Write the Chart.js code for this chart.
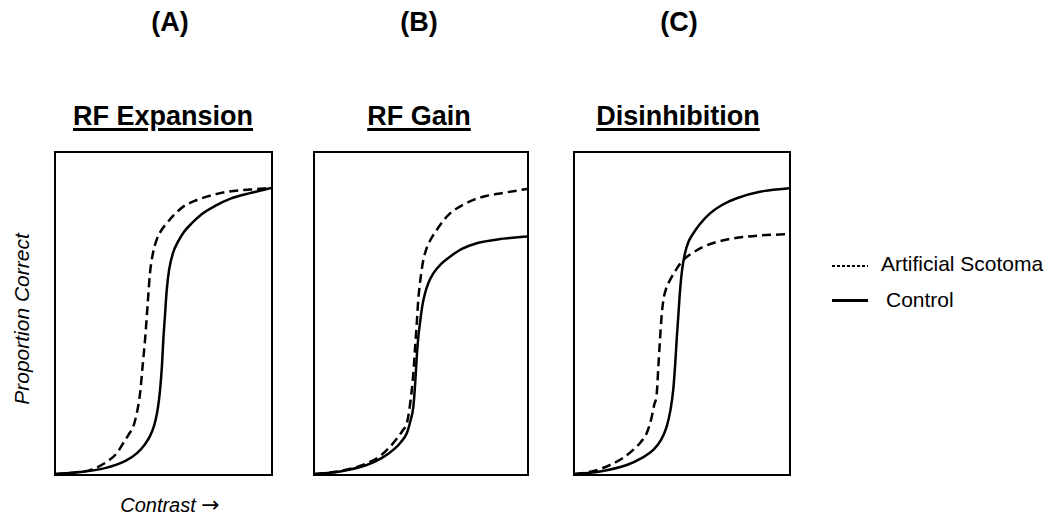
<!DOCTYPE html>
<html>
<head>
<meta charset="utf-8">
<script src="https://cdn.jsdelivr.net/npm/chart.js@4"></script>
<style>
  body { margin: 0; background: #fff; }
  #page { position: relative; width: 1050px; height: 514px; font-family: "Liberation Sans", Arial, sans-serif; color: #000; }
  .txt { position: absolute; white-space: nowrap; line-height: 1; }
  .letter { font-size: 27px; font-weight: bold; transform: translateX(-50%); top: 9px; }
  .title { font-size: 27px; font-weight: bold; transform: translateX(-50%); top: 103px;
           text-decoration: underline; text-decoration-thickness: 3px; text-underline-offset: 3px; }
  .box { position: absolute; top: 151px; height: 325px; border: 2px solid #000; box-sizing: border-box; }
  .box div { position: relative; width: 100%; height: 100%; }
  .key { font-size: 21px; }
  .swatch { position: absolute; left: 832px; width: 36px; }
  .arrow { font-family: "DejaVu Sans", sans-serif; font-style: normal; font-size: 22px; }
</style>
</head>
<body>
<div id="page">
  <div class="txt letter" style="left:170px">(A)</div>
  <div class="txt letter" style="left:419px">(B)</div>
  <div class="txt letter" style="left:679px">(C)</div>

  <div class="txt title" style="left:163px">RF Expansion</div>
  <div class="txt title" style="left:419px">RF Gain</div>
  <div class="txt title" style="left:678px">Disinhibition</div>

  <div class="box" style="left:54px;width:219px"><div><canvas id="chartA"></canvas></div></div>
  <div class="box" style="left:313px;width:216px"><div><canvas id="chartB"></canvas></div></div>
  <div class="box" style="left:573px;width:218px"><div><canvas id="chartC"></canvas></div></div>

  <div class="txt" style="font-size:21px;font-style:italic;left:21px;top:319px;transform:translate(-50%,-50%) rotate(-90deg)">Proportion Correct</div>
  <div class="txt" style="font-size:20px;font-style:italic;left:170px;top:494px;transform:translateX(-50%)">Contrast <span class="arrow">&#8594;</span></div>

  <div class="swatch" style="top:265px;height:2px;background:repeating-linear-gradient(to right,#000 0 3px,transparent 3px 5px)"></div>
  <div class="txt key" style="left:881px;top:253px">Artificial Scotoma</div>
  <div class="swatch" style="top:299px;height:3px;background:#000"></div>
  <div class="txt key" style="left:886px;top:289px">Control</div>
</div>

<script>
// contrast (0-100 across panel) and proportion correct (0-100 of panel height)

// (A) RF Expansion
const expansionControlX = [0, 11.2, 23.3, 32.1, 37.7, 41.4, 43.7, 45.6, 47.0, 47.9, 48.6, 49.3, 49.9, 50.7, 51.5, 52.6, 54.4, 56.7, 59.5, 63.3, 67.9, 74.0, 80.9, 90.2, 100];
const expansionControlY = [0, 0.6, 1.9, 4.0, 6.5, 9.3, 11.8, 15.0, 19.0, 23.1, 27.7, 34.0, 41.7, 49.5, 57.3, 63.6, 68.8, 72.3, 75.4, 78.2, 81.0, 83.5, 85.7, 87.5, 89.1];
const expansionScotomaX = [0, 8.8, 15.8, 23.6, 28.2, 31.3, 34.0, 35.9, 37.7, 39.1, 40.2, 41.4, 42.6, 43.7, 45.1, 46.8, 48.8, 51.5, 54.9, 59.2, 64.2, 70.1, 79.4, 90.2, 100];
const expansionScotomaY = [0, 0.5, 1.2, 3.8, 6.4, 9.6, 12.5, 14.7, 19.3, 25.1, 33.0, 41.7, 52.6, 62.5, 68.8, 72.9, 75.7, 78.1, 80.7, 83.3, 85.0, 86.4, 87.9, 88.6, 89.1];

// (B) RF Gain
const gainControlX = [0, 11.8, 24.4, 31.6, 36.9, 40.6, 43.3, 45.0, 46.4, 47.3, 48.0, 48.7, 49.5, 50.6, 51.9, 53.5, 55.8, 59.4, 63.7, 69.3, 76.3, 87.3, 100];
const gainControlY = [0, 0.8, 2.8, 5.0, 7.5, 10.0, 12.7, 16.5, 21.0, 28.7, 36.5, 42.4, 46.9, 52.3, 56.3, 59.5, 62.5, 65.4, 67.7, 70.1, 71.9, 73.2, 74.0];
const gainScotomaX = [0, 11.8, 24.4, 30.7, 35.4, 39.2, 41.5, 43.3, 44.8, 46.4, 47.2, 48.0, 48.7, 49.5, 50.6, 51.9, 54.2, 57.4, 60.4, 63.7, 68.9, 74.7, 80.7, 87.3, 100];
const gainScotomaY = [0, 0.9, 3.3, 5.6, 8.5, 11.5, 13.7, 15.8, 21.5, 31.4, 39.3, 46.9, 54.2, 59.4, 64.8, 68.8, 72.6, 76.0, 78.8, 81.2, 83.5, 85.4, 86.6, 87.4, 88.8];

// (C) Disinhibition
const disinhControlX = [0, 11.7, 24.2, 31.3, 36.6, 40.2, 42.8, 44.6, 45.9, 46.8, 47.5, 48.3, 49.1, 50.1, 51.4, 53.0, 55.3, 58.4, 63.1, 68.7, 75.6, 86.4, 100];
const disinhControlY = [0, 0.8, 2.8, 5.0, 7.5, 10.6, 14.7, 19.9, 26.2, 34.0, 41.7, 49.5, 57.3, 63.9, 68.8, 72.3, 75.0, 77.9, 81.2, 83.8, 85.9, 87.9, 89.0];
const disinhScotomaX = [0, 7.9, 16.4, 22.4, 27.2, 30.8, 33.5, 35.5, 37.0, 38.2, 39.0, 39.7, 40.4, 41.3, 42.5, 44.4, 47.2, 50.6, 54.7, 60.0, 66.4, 74.0, 86.4, 100];
const disinhScotomaY = [0, 0.8, 2.8, 5.0, 7.5, 10.0, 12.7, 16.8, 21.5, 25.1, 34.0, 41.7, 48.6, 54.2, 57.6, 60.4, 63.6, 66.7, 68.8, 70.8, 72.3, 73.4, 74.3, 74.7];

function pts(xs, ys) {
  return xs.map((x, i) => ({ x: x, y: ys[i] }));
}

function drawPanel(id, controlX, controlY, scotomaX, scotomaY) {
  const ctx = document.getElementById(id).getContext('2d');
  new Chart(ctx, {
    type: 'line',
    data: {
      datasets: [
        {
          label: 'Artificial Scotoma',
          data: pts(scotomaX, scotomaY),
          borderColor: '#000',
          borderWidth: 2.5,
          borderDash: [9, 5],
          cubicInterpolationMode: 'monotone',
          pointRadius: 0,
          fill: false,
        },
        {
          label: 'Control',
          data: pts(controlX, controlY),
          borderColor: '#000',
          borderWidth: 2.5,
          cubicInterpolationMode: 'monotone',
          pointRadius: 0,
          fill: false,
        }
      ]
    },
    options: {
      responsive: true,
      maintainAspectRatio: false,
      animation: false,
      layout: { padding: 0 },
      scales: {
        x: { type: 'linear', min: 0, max: 100, display: false },
        y: { min: 0, max: 100, display: false },
      },
      plugins: {
        legend: { display: false },
        tooltip: { enabled: false },
      }
    }
  });
}

drawPanel('chartA', expansionControlX, expansionControlY, expansionScotomaX, expansionScotomaY);
drawPanel('chartB', gainControlX, gainControlY, gainScotomaX, gainScotomaY);
drawPanel('chartC', disinhControlX, disinhControlY, disinhScotomaX, disinhScotomaY);
</script>
</body>
</html>
